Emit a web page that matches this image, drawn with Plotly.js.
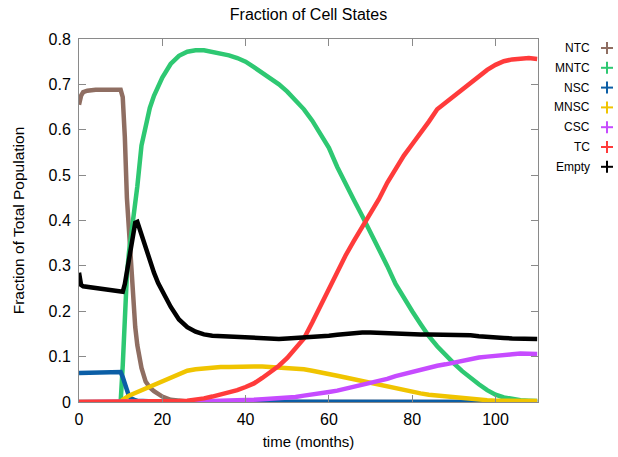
<!DOCTYPE html>
<html>
<head>
<meta charset="utf-8">
<script src="https://cdn.plot.ly/plotly-3.0.1.min.js"></script>
<style>
  html, body { margin: 0; padding: 0; background: #fff; }
  #chart { width: 618px; height: 457px; }
</style>
</head>
<body>
<div id="chart"></div>
<script>
// Sample times (months); denser around the transition near month 10-20
const months = [0, 0.5, 1, 2, 4, 6, 8, 10, 10.5, 11, 11.5, 12, 12.5, 13, 13.5, 14, 15, 16, 17, 18, 19, 20,
  22, 24, 26, 28, 30, 32, 34, 36, 38, 40, 42, 44, 46, 48, 50, 52, 54, 56, 58, 60, 62, 64, 66, 68, 70,
  72, 74, 76, 78, 80, 82, 84, 86, 88, 90, 92, 94, 96, 98, 100, 102, 104, 106, 108, 110];

const seriesNames = ["NTC", "MNTC", "NSC", "MNSC", "CSC", "TC", "Empty"];
const seriesColors = ["#8f6e62", "#2ec872", "#0b5ea6", "#f0c400", "#c64bff", "#ff3b3b", "#000000"];

const ntc = [0.655, 0.675, 0.683, 0.686, 0.688, 0.688, 0.689, 0.688, 0.672, 0.585, 0.45, 0.37, 0.30, 0.225, 0.165, 0.125, 0.075, 0.045, 0.032, 0.024, 0.017, 0.012,
  0.005, 0.002, 0.001, 0, 0, 0, 0, 0, 0, 0, 0, 0, 0, 0, 0, 0, 0, 0, 0, 0, 0, 0, 0, 0, 0,
  0, 0, 0, 0, 0, 0, 0, 0, 0, 0, 0, 0, 0, 0, 0, 0, 0, 0, 0, 0];

const mntc = [0, 0, 0, 0, 0, 0, 0, 0, 0.08, 0.19, 0.28, 0.33, 0.365, 0.395, 0.43, 0.475, 0.565, 0.61, 0.648, 0.675, 0.698, 0.715,
  0.745, 0.763, 0.772, 0.775, 0.775, 0.772, 0.768, 0.764, 0.758, 0.75, 0.738, 0.726, 0.713, 0.70, 0.684, 0.666, 0.645, 0.62, 0.59, 0.56, 0.518, 0.48, 0.445, 0.41, 0.375,
  0.34, 0.30, 0.26, 0.228, 0.20, 0.172, 0.145, 0.123, 0.103, 0.085, 0.068, 0.052, 0.039, 0.026, 0.016, 0.010, 0.006, 0.004, 0.003, 0.002];

const nsc = [0.064, 0.064, 0.064, 0.064, 0.065, 0.065, 0.065, 0.066, 0.055, 0.038, 0.022, 0.013, 0.008, 0.005, 0.004, 0.003, 0.002, 0.001, 0.001, 0.001, 0.001, 0.001,
  0.001, 0.001, 0.001, 0.001, 0, 0, 0, 0, 0, 0, 0, 0, 0, 0, 0, 0, 0, 0, 0, 0, 0, 0, 0, 0, 0,
  0, 0, 0, 0, 0, 0, 0, 0, 0, 0, 0, 0, 0, 0, 0, 0, 0, 0, 0, 0];

const mnsc = [0, 0, 0, 0, 0, 0, 0, 0, 0.005, 0.009, 0.012, 0.014, 0.016, 0.018, 0.020, 0.022, 0.026, 0.029, 0.032, 0.036, 0.040, 0.044,
  0.052, 0.062, 0.069, 0.072, 0.074, 0.076, 0.077, 0.077, 0.078, 0.078, 0.078, 0.078, 0.077, 0.076, 0.075, 0.074, 0.072, 0.069, 0.066, 0.062, 0.058, 0.054, 0.050, 0.045, 0.041,
  0.037, 0.033, 0.029, 0.025, 0.022, 0.019, 0.016, 0.014, 0.012, 0.010, 0.008, 0.007, 0.005, 0.004, 0.003, 0.003, 0.002, 0.002, 0.002, 0.002];

const csc = [0, 0, 0, 0, 0, 0, 0, 0, 0, 0, 0, 0, 0, 0, 0, 0, 0, 0, 0, 0, 0, 0,
  0, 0, 0.001, 0.001, 0.002, 0.002, 0.003, 0.003, 0.004, 0.004, 0.005, 0.006, 0.007, 0.008, 0.009, 0.011, 0.014, 0.016, 0.019, 0.022, 0.025, 0.029, 0.033, 0.037, 0.041,
  0.046, 0.051, 0.057, 0.062, 0.067, 0.071, 0.076, 0.080, 0.083, 0.087, 0.091, 0.095, 0.098, 0.100, 0.101, 0.102, 0.105, 0.107, 0.106, 0.106];

const tc = [0, 0, 0, 0, 0, 0, 0, 0, 0, 0, 0, 0, 0, 0, 0, 0, 0, 0.001, 0.001, 0.001, 0.001, 0.001,
  0.001, 0.002, 0.003, 0.005, 0.008, 0.012, 0.016, 0.021, 0.026, 0.033, 0.041, 0.053, 0.066, 0.080, 0.097, 0.118, 0.140, 0.175, 0.213, 0.250, 0.286, 0.323, 0.355, 0.385, 0.415,
  0.447, 0.483, 0.515, 0.543, 0.568, 0.592, 0.618, 0.645, 0.660, 0.673, 0.690, 0.705, 0.720, 0.732, 0.743, 0.751, 0.755, 0.757, 0.758, 0.756];

const empty = [0.285, 0.258, 0.255, 0.254, 0.252, 0.250, 0.248, 0.245, 0.243, 0.260, 0.285, 0.310, 0.338, 0.362, 0.395, 0.397, 0.368, 0.338, 0.310, 0.285, 0.262, 0.243,
  0.210, 0.182, 0.165, 0.155, 0.149, 0.146, 0.145, 0.144, 0.143, 0.142, 0.141, 0.140, 0.140, 0.139, 0.140, 0.141, 0.141, 0.142, 0.144, 0.146, 0.148, 0.150, 0.152, 0.153, 0.153,
  0.152, 0.151, 0.150, 0.150, 0.149, 0.149, 0.149, 0.149, 0.148, 0.148, 0.147, 0.147, 0.145, 0.143, 0.142, 0.141, 0.140, 0.139, 0.139, 0.139];

const seriesValues = [ntc, mntc, nsc, mnsc, csc, tc, empty];

const xTicks = [0, 20, 40, 60, 80, 100];
const yTicks = [0, 0.1, 0.2, 0.3, 0.4, 0.5, 0.6, 0.7, 0.8];

const FONT = "Liberation Sans, Arial, Helvetica, sans-serif";
const W = 618, H = 457;
const M = { l: 79, r: 80, t: 39, b: 55 };
const plotW = W - M.l - M.r, plotH = H - M.t - M.b;

const traces = seriesNames.map((name, i) => ({
  type: "scatter",
  mode: "lines",
  name: name,
  x: months,
  y: seriesValues[i],
  line: { color: seriesColors[i], width: 4.5 },
  showlegend: false,
  hoverinfo: "x+y+name"
}));

// Key on the right: label text followed by a "+" cross in the series colour
const annotations = [];
const shapes = [];
const keyTextRight = 592, keyCrossX = 607, keyTop = 48, keyStep = 19.8, crossHalf = 6;
const px2x = p => (p - M.l) / plotW;
const px2y = p => (H - M.b - p) / plotH;
seriesNames.forEach((name, i) => {
  const yPix = keyTop + i * keyStep;
  annotations.push({
    xref: "paper", yref: "paper",
    x: px2x(keyTextRight), y: px2y(yPix),
    xanchor: "right", yanchor: "middle",
    text: name, showarrow: false,
    font: { family: FONT, size: 12, color: "#000" }
  });
  shapes.push({
    type: "line", xref: "paper", yref: "paper",
    x0: px2x(keyCrossX - crossHalf), x1: px2x(keyCrossX + crossHalf),
    y0: px2y(yPix), y1: px2y(yPix),
    line: { color: seriesColors[i], width: 2 }
  });
  shapes.push({
    type: "line", xref: "paper", yref: "paper",
    x0: px2x(keyCrossX), x1: px2x(keyCrossX),
    y0: px2y(yPix - crossHalf), y1: px2y(yPix + crossHalf),
    line: { color: seriesColors[i], width: 2 }
  });
});

const axisCommon = {
  showgrid: false,
  zeroline: false,
  showline: true,
  linecolor: "#8a8a8a",
  linewidth: 1,
  mirror: "allticks",
  ticks: "inside",
  ticklen: 7,
  tickwidth: 1,
  tickcolor: "#8a8a8a",
  tickfont: { family: FONT, size: 16, color: "#000" }
};

const layout = {
  width: W, height: H,
  margin: M,
  paper_bgcolor: "#fff",
  plot_bgcolor: "#fff",
  title: {
    text: "Fraction of Cell States",
    font: { family: FONT, size: 16, color: "#000" },
    x: 0.5, xanchor: "center", xref: "paper",
    y: 1 - 14 / H, yanchor: "middle"
  },
  xaxis: Object.assign({}, axisCommon, {
    range: [0, 110.2],
    tickvals: xTicks,
    ticktext: xTicks.map(String),
    ticklabelstandoff: 3,
    title: { text: "time (months)", font: { family: FONT, size: 15, color: "#000" }, standoff: 9 }
  }),
  yaxis: Object.assign({}, axisCommon, {
    range: [0, 0.8],
    tickvals: yTicks,
    ticktext: yTicks.map(v => v === 0 ? "0" : v.toFixed(1)),
    ticklabelstandoff: 4,
    title: { text: "Fraction of Total Population", font: { family: FONT, size: 15.5, color: "#000" }, standoff: 20 }
  }),
  annotations: annotations,
  shapes: shapes,
  showlegend: false
};

Plotly.newPlot("chart", traces, layout, { displayModeBar: false, staticPlot: true });
</script>
</body>
</html>
